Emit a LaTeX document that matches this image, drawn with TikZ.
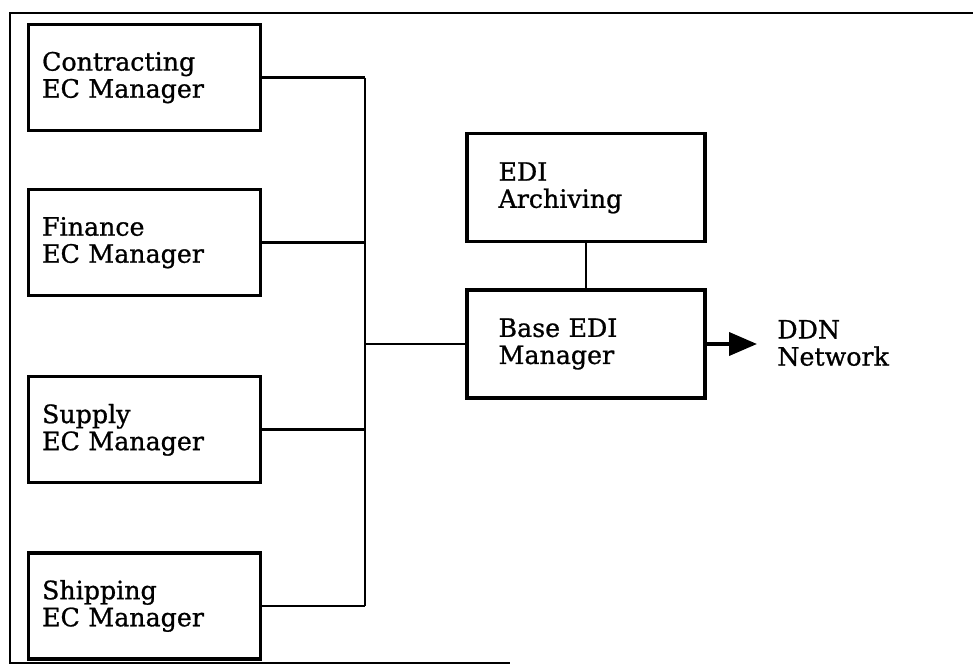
\documentclass[tikz,border=0pt]{standalone}
\usepackage{fontspec}
\setmainfont[FakeBold=0.9]{DejaVu Serif}
\usetikzlibrary{positioning, arrows.meta, calc}

\begin{document}
\begin{tikzpicture}[
        x=0.02cm, y=-0.02cm,
        node distance=1.2cm,
        every node/.style={font=\fontsize{14.4}{15.4}\selectfont},
        ecbox/.style={draw, rectangle, line width=1.8pt, minimum width=4.64cm, minimum height=2.12cm, text width=4.1cm, inner xsep=0.24cm, align=left},
        edibox/.style={draw, rectangle, line width=1.8pt, minimum width=4.76cm, minimum height=2.16cm, text width=3.5cm, inner xsep=0.62cm, align=left},
        wire/.style={line width=1.6pt},
        frame/.style={line width=1.4pt},
        arrow/.style={-{Triangle[length=0.56cm, width=0.46cm]}, line width=2.2pt}
    ]
    \useasboundingbox (0,0) rectangle (973,665);

    \draw[frame] (973,13) -- (10,13) -- (10,663) -- (510,663);

    \node[ecbox, anchor=north west] (Contract) at (27,23) {Contracting\\EC Manager};
    \node[ecbox, below=1.12cm of Contract] (Finance) {Finance\\EC Manager};
    \node[ecbox, below=1.56cm of Finance] (Supply) {Supply\\EC Manager};
    \node[ecbox, below=1.34cm of Supply] (Shipping) {Shipping\\EC Manager};

    \node[edibox] (BaseEDI) at (586,344) {Base EDI\\Manager};
    \node[edibox, above=0.9cm of BaseEDI] (Archive) {EDI\\Archiving};

    \node[anchor=west, inner sep=0pt, align=left] (DDN) at (777,343) {DDN\\Network};

    \coordinate (bus) at (365,0);

    \draw[wire] (Contract.east) -- (Contract.east -| bus);
    \draw[wire] (Finance.east) -- (Finance.east -| bus);
    \draw[wire] (Supply.east) -- (Supply.east -| bus);
    \draw[wire] (Shipping.east) -- (Shipping.east -| bus);
    \draw[wire] (Contract.east -| bus) -- (Shipping.east -| bus);
    \draw[wire] (BaseEDI.west -| bus) -- (BaseEDI.west);
    \draw[wire] (Archive) -- (BaseEDI);
    \draw[arrow] (BaseEDI.east) -- ([xshift=-0.4cm]BaseEDI.east -| DDN.west);

\end{tikzpicture}
\end{document}
